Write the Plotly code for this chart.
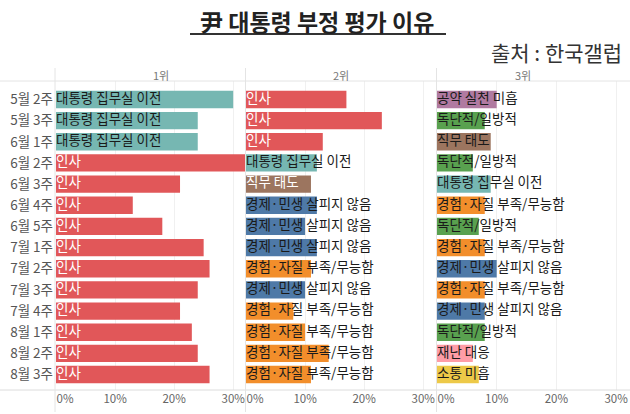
import plotly.graph_objects as go

weeks = ["5월 2주", "5월 3주", "6월 1주", "6월 2주", "6월 3주", "6월 4주", "6월 5주",
         "7월 1주", "7월 2주", "7월 3주", "7월 4주", "8월 1주", "8월 2주", "8월 3주"]

rank1_reason = ["대통령 집무실 이전", "대통령 집무실 이전", "대통령 집무실 이전", "인사", "인사", "인사", "인사",
                "인사", "인사", "인사", "인사", "인사", "인사", "인사"]
rank1_value = [30, 24, 24, 32, 21, 13, 18, 25, 26, 24, 21, 23, 24, 26]

rank2_reason = ["인사", "인사", "인사", "대통령 집무실 이전", "직무 태도", "경제·민생 살피지 않음", "경제·민생 살피지 않음",
                "경제·민생 살피지 않음", "경험·자질 부족/무능함", "경제·민생 살피지 않음", "경험·자질 부족/무능함",
                "경험·자질 부족/무능함", "경험·자질 부족/무능함", "경험·자질 부족/무능함"]
rank2_value = [17, 23, 13, 12, 11, 12, 10, 12, 11, 10, 8, 10, 14, 11]

rank3_reason = ["공약 실천 미흡", "독단적/일방적", "직무 태도", "독단적/일방적", "대통령 집무실 이전",
                "경험·자질 부족/무능함", "독단적/일방적", "경험·자질 부족/무능함", "경제·민생 살피지 않음",
                "경험·자질 부족/무능함", "경제·민생 살피지 않음", "독단적/일방적", "재난 대응", "소통 미흡"]
rank3_value = [10, 8, 9, 6, 9, 8, 7, 8, 10, 8, 8, 8, 6, 7]

panel_titles = ["1위", "2위", "3위"]
tick_vals = [10, 20, 30]
tick_text = ["10%", "20%", "30%"]
zero_tick_val = [0]
zero_tick_text = ["0%"]

reason_colors = {
    "대통령 집무실 이전": "#76B7B2",
    "인사": "#E15759",
    "직무 태도": "#9C755F",
    "경제·민생 살피지 않음": "#4E79A7",
    "경험·자질 부족/무능함": "#F28E2B",
    "독단적/일방적": "#59A14F",
    "공약 실천 미흡": "#B07AA1",
    "재난 대응": "#FF9DA7",
    "소통 미흡": "#EDC948",
}

FONT = "Noto Sans CJK KR"
W, H = 630, 414
ML, MR, MT, MB = 56, 2, 81, 24
pw = W - ML - MR
plot_h = H - MT - MB


def px2dom(a, b):
    return [(a - ML) / pw, (b - ML) / pw]


def px_x(p):
    return (p - ML) / pw


def px_y(p):
    return (H - MB - p) / plot_h


domains = [px2dom(56, 245), px2dom(246, 435), px2dom(437, 628)]

fig = go.Figure()
panels = [(rank1_reason, rank1_value), (rank2_reason, rank2_value), (rank3_reason, rank3_value)]

for i, (reasons, values) in enumerate(panels):
    xa = "x" if i == 0 else f"x{i+1}"
    colors = [reason_colors[r] for r in reasons]
    fig.add_trace(go.Bar(
        y=weeks, x=values, orientation="h", marker=dict(color=colors, line=dict(width=0)),
        xaxis=xa, yaxis="y", hoverinfo="skip", showlegend=False,
    ))
    txtcol = []
    for r in reasons:
        if r == "인사" or (r == "직무 태도" and i == 1):
            txtcol.append("white")
        else:
            txtcol.append("#1a1a1a")
    fig.add_trace(go.Scatter(
        y=weeks, x=[0] * len(weeks), mode="text", text=reasons,
        textposition="middle right", textfont=dict(family=FONT, size=13.5, color=txtcol),
        xaxis=xa, yaxis="y", hoverinfo="skip", showlegend=False, cliponaxis=False,
    ))
    # invisible trace so the overlay axis carrying the 0% label is drawn
    fig.add_trace(go.Scatter(
        y=[weeks[0]], x=zero_tick_val, mode="markers", marker=dict(opacity=0, size=1),
        xaxis=f"x{i+4}", yaxis="y", hoverinfo="skip", showlegend=False,
    ))

layout = dict(
    width=W, height=H,
    margin=dict(l=ML, r=MR, t=MT, b=MB),
    paper_bgcolor="white", plot_bgcolor="white",
    bargap=0.18,
    font=dict(family=FONT, color="#555"),
    yaxis=dict(categoryorder="array", categoryarray=weeks, autorange="reversed",
               showgrid=False, zeroline=False, showline=False, ticks="",
               tickfont=dict(family=FONT, size=13.5, color="#555"), ticklabelstandoff=2),
)
for i in range(3):
    key = "xaxis" if i == 0 else f"xaxis{i+1}"
    layout[key] = dict(
        domain=domains[i], range=[0, 32], anchor="y",
        tickvals=tick_vals, ticktext=tick_text,
        showgrid=True, gridcolor="#f0f0f0", gridwidth=1,
        zeroline=False, showline=False, ticks="",
        tickfont=dict(family=FONT, size=11.5, color="#666"),
    )
    zkey = f"xaxis{i+4}"
    layout[zkey] = dict(
        domain=domains[i], range=[0, 32], anchor="y", overlaying="x" if i == 0 else f"x{i+1}",
        side="bottom",
        tickvals=zero_tick_val, ticktext=zero_tick_text, ticklabelshift=9,
        showgrid=False, zeroline=False, showline=False, ticks="",
        tickfont=dict(family=FONT, size=11.5, color="#666"),
    )
fig.update_layout(**layout)

# header labels
for i, t in enumerate(panel_titles):
    d = domains[i]
    fig.add_annotation(x=(d[0] + d[1]) / 2, y=px_y(75), xref="paper", yref="paper",
                       yanchor="middle", text=t, showarrow=False,
                       font=dict(family=FONT, size=11, color="#777"))

# title and source
fig.add_annotation(x=px_x(317), y=px_y(21), xref="paper", yref="paper", xanchor="center", yanchor="middle",
                   text="<b>尹 대통령 부정 평가 이유</b>", showarrow=False,
                   font=dict(family=FONT, size=23, color="#222"))
fig.add_shape(type="line", xref="paper", yref="paper", x0=px_x(190), x1=px_x(446),
              y0=px_y(34), y1=px_y(34), line=dict(color="#333", width=2), layer="above")
fig.add_annotation(x=px_x(624), y=px_y(52), xref="paper", yref="paper", xanchor="right", yanchor="middle",
                   text="출처 : 한국갤럽", showarrow=False,
                   font=dict(family=FONT, size=21, color="#333"))

# frame lines
fig.add_shape(type="line", xref="paper", yref="paper", x0=px_x(0), x1=px_x(630),
              y0=1, y1=1, line=dict(color="#e4e4e4", width=1))
fig.add_shape(type="line", xref="paper", yref="paper", x0=px_x(0), x1=px_x(630),
              y0=0, y1=0, line=dict(color="#dcdcdc", width=1))
for xp in [55, 245.5, 436.5]:
    fig.add_shape(type="line", xref="paper", yref="paper", x0=px_x(xp), x1=px_x(xp),
                  y0=px_y(412), y1=px_y(68), line=dict(color="#e4e4e4", width=1))

fig.write_html("out.html", config={"displayModeBar": False},
               post_script="document.body.style.margin='0';document.body.style.overflow='hidden';")
